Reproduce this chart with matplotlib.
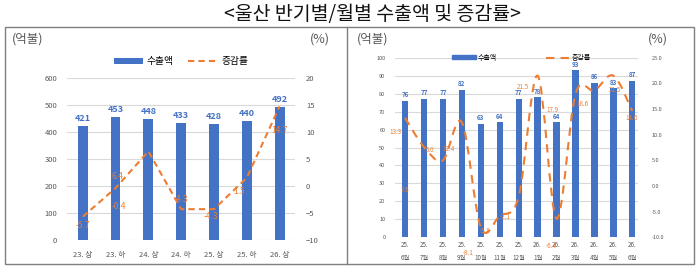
import matplotlib
matplotlib.use("Agg")
import matplotlib.pyplot as plt
from matplotlib.path import Path
from matplotlib.patches import PathPatch, Rectangle
from matplotlib.lines import Line2D
import numpy as np

plt.rcParams['font.family'] = ['Noto Sans CJK KR', 'DejaVu Sans']

# half-year data
half_labels = ['23. 상', '23. 하', '24. 상', '24. 하', '25. 상', '25. 하', '26. 상']
half_export = [421, 453, 448, 433, 428, 440, 492]
half_rate = [-5.7, -0.4, 6.4, -4.3, -4.3, 1.5, 14.7]

# monthly data
month_labels = ['25.\n6월', '25.\n7월', '25.\n8월', '25.\n9월', '25.\n10월', '25.\n11월',
                '25.\n12월', '26.\n1월', '26.\n2월', '26.\n3월', '26.\n4월', '26.\n5월', '26.\n6월']
month_export = [76, 77, 77, 82, 63, 64, 77, 78, 64, 93, 86, 83, 87]
month_rate = [13.3, 7.6, 5.0, 12.4, -8.1, -5.8, -2.1, 21.5, -6.4, 17.9, 18.6, 21.5, 14.6]

BLUE = '#4472C4'
ORANGE = '#ED7D31'
GRAY = '#595959'
GRID = '#D9D9D9'

fig = plt.figure(figsize=(7, 2.68), dpi=100)

# title and table frame
fig.text(0.532, 0.945, '<울산 반기별/월별 수출액 및 증감률>', ha='center', va='center',
         fontsize=14, color='#111111')
fig.add_artist(Rectangle((5 / 700, 1 - 264 / 268), 689 / 700, 237 / 268, transform=fig.transFigure,
                         fill=False, edgecolor='#7F7F7F', lw=1.0))
fig.add_artist(Line2D([347 / 700, 347 / 700], [1 - 264 / 268, 1 - 27 / 268], transform=fig.transFigure,
                      color='#7F7F7F', lw=1.0))

for x, t, ha in [(12, '(억불)', 'left'), (330, '(%)', 'right'), (357, '(억불)', 'left'), (668, '(%)', 'right')]:
    fig.text(x / 700, 1 - 39 / 268, t, ha=ha, va='center', fontsize=9, color=GRAY)


def style_axes(ax, ax2, size):
    for a in (ax, ax2):
        for s in a.spines.values():
            s.set_visible(False)
        a.tick_params(length=0, labelsize=size, labelcolor=GRAY)
    ax.grid(axis='y', color=GRID, lw=0.8)
    ax.set_axisbelow(True)


# ---- left chart: half-year ----
ax = fig.add_axes([67 / 700, 28 / 268, 228 / 700, 162.3 / 268])
ax2 = ax.twinx()
xh = np.arange(len(half_labels))
ax.bar(xh, half_export, width=0.3, color=BLUE, label='수출액')
for i, v in enumerate(half_export):
    ax.text(i, v + 12, str(v), ha='center', va='bottom', fontsize=6.5, color=BLUE, fontweight='bold')
ax.set_ylim(0, 600)
ax.set_yticks(range(0, 601, 100))
ax.set_xlim(-0.48, 6.47)
ax.set_xticks(xh)
ax.set_xticklabels(half_labels)
ax2.plot(xh, half_rate, color=ORANGE, lw=1.5, ls=(0, (3, 2)), label='증감률')
ax2.set_ylim(-10, 20)
ax2.set_yticks(range(-10, 21, 5))
half_off = [(0, -1.7), (0.1, -3.4), (-0.95, -4.7), (0, 1.7), (-0.1, -1.3), (-0.25, -2.6), (0, -4.4)]
for i, v in enumerate(half_rate):
    dx, dy = half_off[i]
    ax2.text(i + dx, v + dy, f'{v:.1f}', ha='center', va='center', fontsize=6, color=ORANGE)
style_axes(ax, ax2, 5.5)
ax.tick_params(axis='x', pad=8)
ax.tick_params(axis='y', pad=7)
ax2.tick_params(axis='y', pad=8)
h1, l1 = ax.get_legend_handles_labels()
h2, l2 = ax2.get_legend_handles_labels()
ax.legend(h1 + h2, l1 + l2, loc='center', bbox_to_anchor=(0.5, 1.1), ncol=2, frameon=False,
          fontsize=7, handlelength=3, handleheight=0.5, columnspacing=1.5, handletextpad=0.4)

# ---- right chart: monthly ----
bx = fig.add_axes([395 / 700, 30.7 / 268, 243 / 700, 179.6 / 268])
bx2 = bx.twinx()
xm = np.arange(len(month_labels))
bx.bar(xm, month_export, width=0.33, color=BLUE, label='수출액')
for i, v in enumerate(month_export):
    bx.text(i, v + 1.5, str(v), ha='center', va='bottom', fontsize=4.5, color=BLUE, fontweight='bold')
bx.set_ylim(0, 100)
bx.set_yticks(range(0, 101, 10))
bx.set_xlim(-0.53, 12.3)
bx.set_xticks(xm)
bx.set_xticklabels(month_labels, linespacing=1.7)
bx2.set_ylim(-10, 25)
bx2.set_yticks(range(-10, 26, 5))
bx2.set_yticklabels([f'{t:.1f}' for t in range(-10, 26, 5)])

# smoothed line (bezier through the points, like excel)
pts = np.column_stack([xm, month_rate]).astype(float)
verts = [pts[0]]
codes = [Path.MOVETO]
n = len(pts)
for i in range(n - 1):
    p0 = pts[i - 1] if i > 0 else pts[i]
    p3 = pts[i + 2] if i + 2 < n else pts[i + 1]
    c1 = pts[i] + (pts[i + 1] - p0) / 6
    c2 = pts[i + 1] - (p3 - pts[i]) / 6
    verts += [c1, c2, pts[i + 1]]
    codes += [Path.CURVE4] * 3
bx2.add_patch(PathPatch(Path(verts, codes), fill=False, edgecolor=ORANGE, lw=1.5, ls=(0, (4, 3))))
month_off = [(-0.5, -2.8), (-1.0, -8.4), (-0.7, 2.0), (-0.7, -5.1), (-0.65, -5.0), (-0.8, -2.9),
             (-0.7, -3.9), (-0.8, -2.3), (-0.3, -5.3), (-1.2, -3.1), (-0.65, -2.6), (0.1, -2.8), (-0.05, -1.3)]
for i, v in enumerate(month_rate):
    dx, dy = month_off[i]
    bx2.text(i + dx, v + dy, f'{v:.1f}', ha='center', va='center', fontsize=4.5, color=ORANGE,
             clip_on=False)
style_axes(bx, bx2, 4)
bx.tick_params(axis='y', pad=7)
bx2.tick_params(axis='y', pad=10)
bx.tick_params(axis='x', labelsize=4.5, pad=3)
leg_h = [Rectangle((0, 0), 1, 1, color=BLUE),
         Line2D([0], [0], color=ORANGE, lw=1.5, ls=(0, (4, 3)))]
bx.legend(leg_h, ['수출액', '증감률'], loc='center', bbox_to_anchor=(0.52, 1.0), ncol=2, frameon=False,
          fontsize=5, handlelength=3.5, handleheight=0.4, columnspacing=7, handletextpad=0.3)

fig.savefig('out.png', dpi=100)
